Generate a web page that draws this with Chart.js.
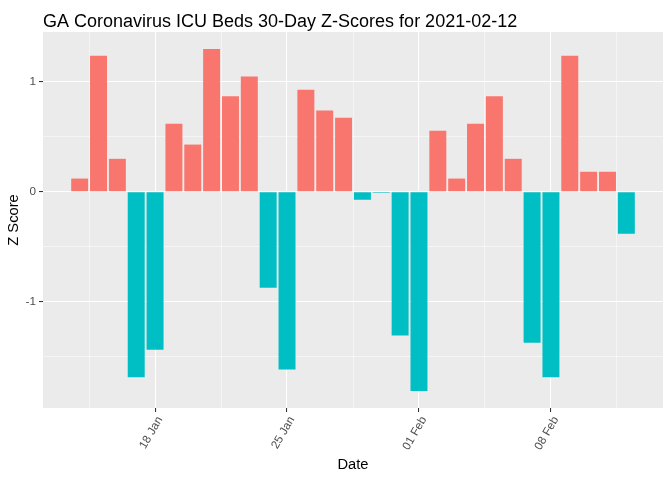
<!DOCTYPE html>
<html lang="en">
<head>
<meta charset="utf-8"/>
<title>GA Coronavirus ICU Beds 30-Day Z-Scores</title>
<script src="https://cdn.jsdelivr.net/npm/chart.js"></script>
<style>
html, body { margin: 0; padding: 0; background: #ffffff; }
#wrap { width: 672px; height: 480px; }
</style>
</head>
<body>
<div id="wrap"><canvas id="zChart" width="672" height="480"></canvas></div>
<script>
const titleText = "GA Coronavirus ICU Beds 30-Day Z-Scores for 2021-02-12";

// one bar per day, 2021-01-14 .. 2021-02-12
const dates = [
  "2021-01-14", "2021-01-15", "2021-01-16", "2021-01-17", "2021-01-18",
  "2021-01-19", "2021-01-20", "2021-01-21", "2021-01-22", "2021-01-23",
  "2021-01-24", "2021-01-25", "2021-01-26", "2021-01-27", "2021-01-28",
  "2021-01-29", "2021-01-30", "2021-01-31", "2021-02-01", "2021-02-02",
  "2021-02-03", "2021-02-04", "2021-02-05", "2021-02-06", "2021-02-07",
  "2021-02-08", "2021-02-09", "2021-02-10", "2021-02-11", "2021-02-12"
];
const zScores = [
  0.12, 1.24, 0.30, -1.69, -1.44,
  0.62, 0.43, 1.30, 0.87, 1.05,
  -0.875, -1.62, 0.93, 0.74, 0.675,
  -0.073, -0.01, -1.31, -1.815, 0.556,
  0.12, 0.62, 0.87, 0.30, -1.377,
  -1.69, 1.24, 0.182, 0.182, -0.383
];

// x ticks: day offsets from first date
const xMajorTicks = [4, 11, 18, 25];
const xTickLabels = ["18 Jan", "25 Jan", "01 Feb", "08 Feb"];
const xMinorTicks = [0.5, 7.5, 14.5, 21.5, 28.5];
const yMajorTicks = [-1, 0, 1];
const yMinorTicks = [-1.5, -0.5, 0.5];

const posColor = "#F8766D";
const negColor = "#00BFC4";

// ggplot-like expanded ranges
const zMin = Math.min(...zScores), zMax = Math.max(...zScores);
const yPad = (zMax - zMin) * 0.05;
const xLo = -0.45, xHi = dates.length - 1 + 0.45;
const xPad = (xHi - xLo) * 0.05;

const points = zScores.map((v, i) => ({ x: i, y: v }));

const panelBg = {
  id: "panelBg",
  beforeDraw(chart) {
    const a = chart.chartArea, ctx = chart.ctx;
    ctx.save();
    ctx.fillStyle = "#EBEBEB";
    ctx.fillRect(a.left, a.top, a.right - a.left, a.bottom - a.top);
    ctx.restore();
  },
  afterDraw(chart) {
    const ctx = chart.ctx;
    ctx.save();
    ctx.fillStyle = "#000000";
    ctx.font = "18px 'Liberation Sans', Arial, sans-serif";
    ctx.textBaseline = "alphabetic";
    ctx.textAlign = "left";
    ctx.fillText(titleText, chart.chartArea.left, 27);
    ctx.restore();
  }
};

function setTicks(list) {
  return function (scale) {
    scale.ticks = list.slice().sort((a, b) => a - b).map(v => ({ value: v }));
  };
}

function isMajor(c, list) {
  return !!(c && c.tick && list.includes(c.tick.value));
}

Chart.defaults.font.family = "'Liberation Sans', Arial, sans-serif";
Chart.defaults.animation = false;

new Chart(document.getElementById("zChart"), {
  type: "bar",
  data: {
    datasets: [{
      label: "Z Score",
      data: points,
      backgroundColor: zScores.map(v => v >= 0 ? posColor : negColor),
      barPercentage: 0.9,
      categoryPercentage: 1.0,
      borderWidth: 0
    }]
  },
  options: {
    responsive: false,
    maintainAspectRatio: false,
    layout: { padding: { top: 32, right: 9, left: 0, bottom: 0 } },
    plugins: {
      legend: { display: false },
      title: { display: false },
      tooltip: { enabled: false }
    },
    scales: {
      x: {
        type: "linear",
        offset: false,
        min: xLo - xPad,
        max: xHi + xPad,
        afterBuildTicks: setTicks(xMajorTicks.concat(xMinorTicks)),
        afterFit(scale) { scale.height = 72; },
        border: { display: false },
        grid: {
          offset: false,
          color: "#FFFFFF",
          lineWidth: c => isMajor(c, xMajorTicks) ? 1.07 : 0.53,
          tickColor: c => isMajor(c, xMajorTicks) ? "#333333" : "rgba(0,0,0,0)",
          tickWidth: 1.07,
          tickLength: 4
        },
        ticks: {
          autoSkip: false,
          minRotation: 60,
          maxRotation: 60,
          padding: 2,
          labelOffset: 5,
          color: "#4D4D4D",
          font: { size: 11.7 },
          callback: v => {
            const k = xMajorTicks.indexOf(v);
            return k >= 0 ? xTickLabels[k] : "";
          }
        },
        title: {
          display: true,
          text: "Date",
          color: "#000000",
          font: { size: 14.7 },
          padding: { top: 6, bottom: 6 }
        }
      },
      y: {
        type: "linear",
        min: zMin - yPad,
        max: zMax + yPad,
        afterBuildTicks: setTicks(yMajorTicks.concat(yMinorTicks)),
        afterFit(scale) { scale.width = 43; },
        border: { display: false },
        grid: {
          color: "#FFFFFF",
          lineWidth: c => isMajor(c, yMajorTicks) ? 1.07 : 0.53,
          tickColor: c => isMajor(c, yMajorTicks) ? "#333333" : "rgba(0,0,0,0)",
          tickWidth: 1.07,
          tickLength: 4
        },
        ticks: {
          padding: 3,
          color: "#4D4D4D",
          font: { size: 11.7 },
          callback: v => yMajorTicks.includes(v) ? String(v) : ""
        },
        title: {
          display: true,
          text: "Z Score",
          color: "#000000",
          font: { size: 14.7 },
          padding: { top: 5, bottom: 5 }
        }
      }
    }
  },
  plugins: [panelBg]
});
</script>
</body>
</html>
